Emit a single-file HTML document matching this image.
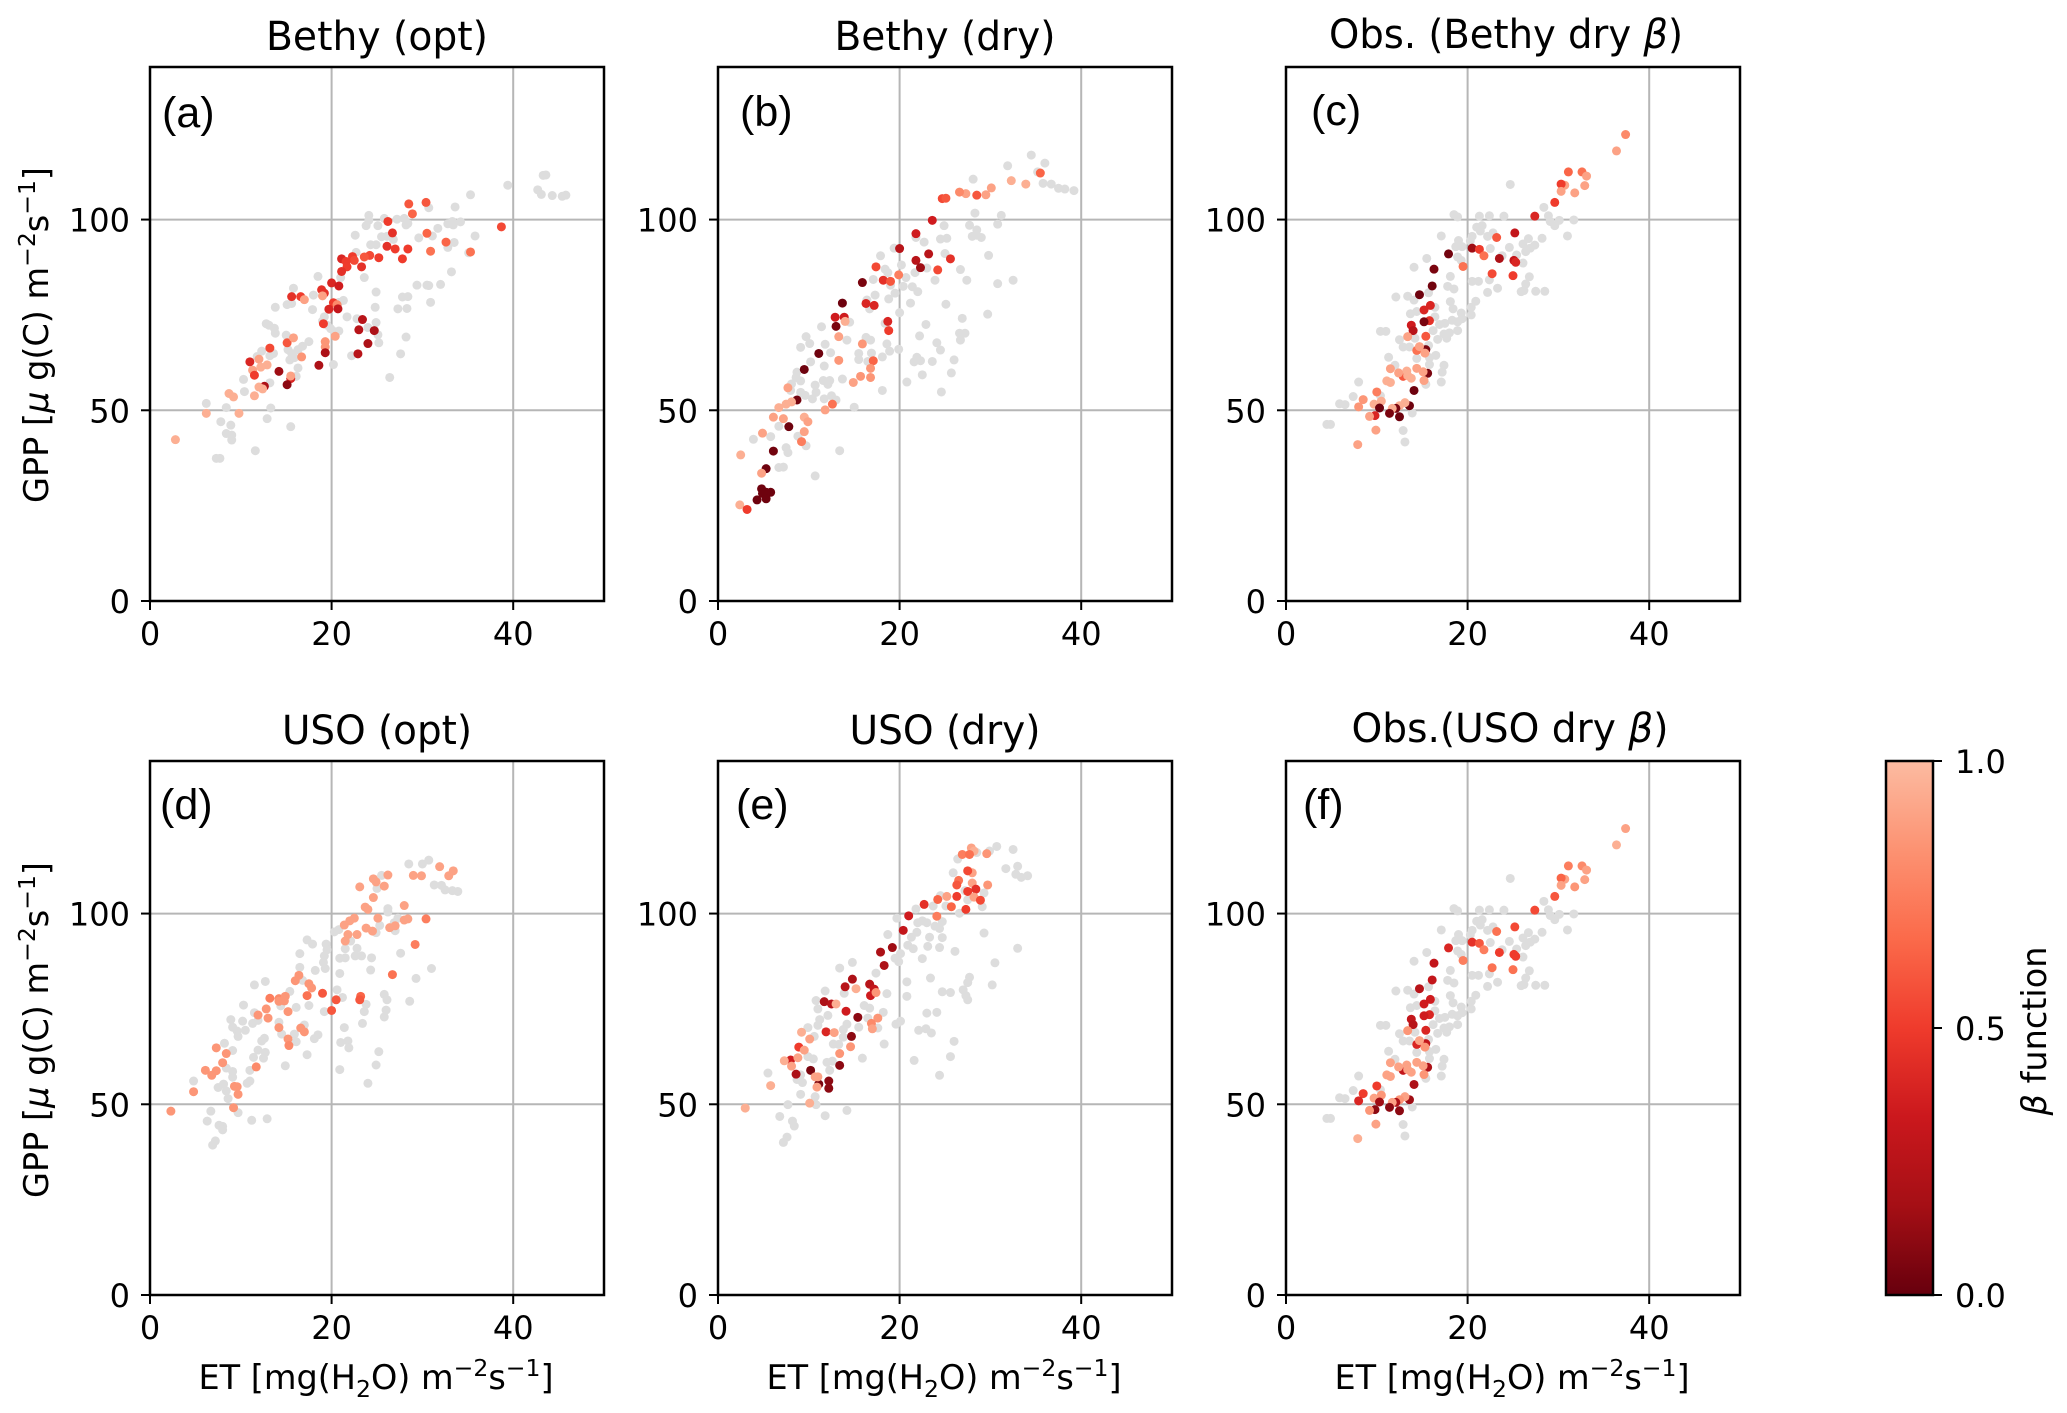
<!DOCTYPE html>
<html>
<head>
<meta charset="utf-8">
<title>GPP vs ET scatter panels</title>
<style>
html,body{margin:0;padding:0;background:#fff;}
svg{display:block;}
text{font-family:"DejaVu Sans",sans-serif;fill:#000;}
.title{font-size:40px;text-anchor:middle;}
.axlab{font-size:33.5px;text-anchor:middle;}
.tick{font-size:32px;}
.plabel{font-family:"Liberation Sans",sans-serif;font-size:43px;}
</style>
</head>
<body>
<svg id="fig" xmlns="http://www.w3.org/2000/svg" width="2067" height="1413" viewBox="0 0 2067 1413">
<defs>
<linearGradient id="cbGrad" x1="0" y1="1" x2="0" y2="0"></linearGradient>
</defs>
<rect width="2067" height="1413" fill="#fff"/>
<g id="panels"></g>

<text class="title" x="377" y="50" textLength="222" lengthAdjust="spacingAndGlyphs">Bethy (opt)</text>
<text class="title" x="945" y="50" textLength="221" lengthAdjust="spacingAndGlyphs">Bethy (dry)</text>
<text class="title" x="1506" y="48" textLength="354" lengthAdjust="spacingAndGlyphs">Obs. (Bethy dry <tspan font-style="italic">β</tspan>)</text>
<text class="title" x="377" y="744" textLength="190" lengthAdjust="spacingAndGlyphs">USO (opt)</text>
<text class="title" x="945" y="744" textLength="191" lengthAdjust="spacingAndGlyphs">USO (dry)</text>
<text class="title" x="1510" y="742" textLength="317" lengthAdjust="spacingAndGlyphs">Obs.(USO dry <tspan font-style="italic">β</tspan>)</text>

<text class="plabel" x="162" y="127">(a)</text>
<text class="plabel" x="740" y="126">(b)</text>
<text class="plabel" x="1311" y="125">(c)</text>
<text class="plabel" x="160" y="819">(d)</text>
<text class="plabel" x="736" y="819">(e)</text>
<text class="plabel" x="1303" y="819">(f)</text>

<text class="axlab" transform="translate(48,335) rotate(-90)" x="0" y="0">GPP [<tspan font-style="italic">μ</tspan> g(C) m<tspan dy="-13" font-size="23.5">−2</tspan><tspan dy="13">s</tspan><tspan dy="-13" font-size="23.5">−1</tspan><tspan dy="13">]</tspan></text>
<text class="axlab" transform="translate(48,1030) rotate(-90)" x="0" y="0">GPP [<tspan font-style="italic">μ</tspan> g(C) m<tspan dy="-13" font-size="23.5">−2</tspan><tspan dy="13">s</tspan><tspan dy="-13" font-size="23.5">−1</tspan><tspan dy="13">]</tspan></text>

<text class="axlab" x="376" y="1389">ET [mg(H<tspan dy="8" font-size="23.5">2</tspan><tspan dy="-8">O) m</tspan><tspan dy="-13" font-size="23.5">−2</tspan><tspan dy="13">s</tspan><tspan dy="-13" font-size="23.5">−1</tspan><tspan dy="13">]</tspan></text>
<text class="axlab" x="944" y="1389">ET [mg(H<tspan dy="8" font-size="23.5">2</tspan><tspan dy="-8">O) m</tspan><tspan dy="-13" font-size="23.5">−2</tspan><tspan dy="13">s</tspan><tspan dy="-13" font-size="23.5">−1</tspan><tspan dy="13">]</tspan></text>
<text class="axlab" x="1512" y="1389">ET [mg(H<tspan dy="8" font-size="23.5">2</tspan><tspan dy="-8">O) m</tspan><tspan dy="-13" font-size="23.5">−2</tspan><tspan dy="13">s</tspan><tspan dy="-13" font-size="23.5">−1</tspan><tspan dy="13">]</tspan></text>

<g id="colorbar"></g>
<text class="axlab" transform="translate(2046,1031) rotate(-90)" x="0" y="0"><tspan font-style="italic">β</tspan> function</text>
</svg>

<script>
// ---- chart values: [ET, GPP] and [ET, GPP, beta] ----
const xTickValues = [0, 20, 40];
const yTickValues = [0, 50, 100];
const cbTickValues = [0, 0.5, 1];
const cbTickLabels = ["0.0", "0.5", "1.0"];
const xLimit = [0, 50];
const yLimit = [0, 140];
const cmapStops = ["#67000d", "#a50f15", "#cb181d", "#ef3b2c", "#fb6a4a", "#fc9272", "#fcbba1"];

const aGray = [[43.6,111.7],[43.3,111.6],[39.4,109],[42.7,107.8],[43.1,106.6],[44.3,106.3],[45.4,106.1],[45.8,106.4],[35.3,106.5],[33.6,103.3],[30.7,103.1],[24.1,101.1],[23.8,98.4],[24.1,99.8],[25.1,98.4],[25.8,100.3],[27.2,100.1],[28,100.3],[28.2,98.6],[28.4,99],[31.7,97.7],[32.8,98.9],[33.3,99.5],[33.4,98.6],[34.2,99.4],[35.8,95.7],[33.5,94],[32.8,92.7],[31.1,95.7],[29.6,95.2],[22.6,95.9],[24.3,93.4],[24.9,93.4],[25.5,95.5],[26.1,95.6],[26.8,94.8],[22.7,91.4],[35.1,91.3],[33.2,86.3],[32,83],[30.5,82.8],[30.7,82.7],[29.4,82.8],[18.5,85.1],[23.6,84.8],[21,84.8],[15.8,82],[24.9,81],[27.8,79.7],[28.4,79.8],[18,80.2],[21.3,78.8],[20.8,78.3],[30.9,78.3],[27.3,76.6],[28.3,76.7],[24.8,77],[17.9,76.4],[13.8,77],[15.1,77.7],[15.6,78],[19.2,74.5],[19,73.4],[19.5,72.3],[21.7,74.5],[22.8,74],[24.9,73],[12.8,72.7],[13.1,72.3],[13.7,71.5],[13.8,70.2],[15,69.7],[19.9,71.4],[20.4,70.6],[20.8,70.8],[24,71.7],[25.1,69.8],[28.2,69.2],[25.2,67.7],[17.5,68],[16.8,66.8],[16.3,65.9],[15.2,65.9],[15.6,64.9],[13.2,64.3],[12.3,65.5],[13.6,64.9],[15.4,63.2],[15.9,63.8],[11.8,64.1],[22.2,64.3],[27.6,64.8],[20.2,62],[16.3,61.1],[26.4,58.6],[16.1,58.9],[10.3,58.1],[13.2,57.2],[10.4,54.9],[6.2,51.8],[13.3,50.6],[8.4,50.7],[12.9,47.8],[7.8,47],[8.9,46.1],[15.5,45.7],[8.4,43.9],[9,43.5],[9,42.2],[11.6,39.4],[7.3,37.4],[7.7,37.4]];
const aColored = [[30.4,104.5,.6],[28.5,104.1,.6],[28.9,101.5,.65],[26.2,99.5,.5],[38.7,98.1,.55],[26.7,96.5,.45],[30.5,96.4,.65],[32.6,94.1,.65],[26.1,93,.45],[27,92.3,.5],[28.4,92.3,.5],[30.9,91.7,.7],[35.3,91.5,.7],[27.8,89.7,.5],[25.2,90,.5],[24.2,90.6,.55],[23.6,90.2,.6],[22.3,90.3,.5],[22.5,89.3,.55],[21.1,89.7,.4],[21.6,89,.5],[21.7,87.6,.5],[23.3,87.6,.45],[21.1,86.4,.45],[20,83.4,.4],[20.8,82.6,.35],[18.9,81.6,.45],[19.2,80.7,.45],[15.6,79.8,.45],[16.6,79.8,.5],[17,79,.9],[19,80,.9],[20.2,78.2,.5],[20.6,77.7,.8],[19.7,76.5,.4],[20.7,76.6,.3],[19.1,72.7,.5],[23.4,73.8,.25],[23,71.1,.25],[24.7,70.9,.2],[24,67.5,.2],[22.9,64.8,.25],[20.4,69.4,.9],[19.3,68,.85],[19.3,66.6,.85],[19.3,65.1,.2],[18.6,61.8,.2],[13.2,66.3,.55],[15.1,67.7,.6],[15.8,69,.9],[16.7,64,.85],[11,62.7,.4],[12,63.4,.9],[12.9,61.9,.95],[12.2,61.3,.95],[11.3,60.5,.9],[11.5,59.2,.5],[14.2,60.2,.15],[15.5,58.3,.4],[15.5,59,.9],[15.1,56.7,.1],[12.6,56.3,.2],[12,56.1,.95],[12.4,55.6,.95],[8.7,54.4,.95],[9.2,53.5,.95],[11.5,53.8,.95],[6.2,49.2,.95],[9.8,49.2,.95],[2.8,42.3,.95]];

const bGray = [[34.5,116.9],[36,114.8],[31.9,114.1],[35.2,112.5],[35.8,109.5],[36.7,109.3],[37.5,108.2],[38.2,108],[39.2,107.6],[28.1,110.6],[28.3,101.7],[31.2,101.1],[30.8,98.8],[24.9,98.4],[27.7,98.5],[28.5,97.3],[28,95.6],[28.5,95.9],[29,95.3],[24.5,94.9],[25.2,95.1],[22.7,94.1],[21.8,95.3],[19.4,92.5],[17.9,90.5],[25,91.1],[29.8,90.6],[20.2,88.1],[23,87.3],[26.7,86.9],[18.4,87],[18.7,86.1],[21.7,86.1],[17.1,84.3],[20.7,84.8],[23.9,84.1],[27.4,84.1],[32.5,84.1],[30.8,83.2],[19,82.8],[20.4,82.5],[21.4,82.4],[22,81.1],[19.5,80.7],[17.3,80.2],[18.8,79.2],[16.4,78.9],[21.2,78.1],[25.1,77.8],[16.7,76.6],[20,75.6],[29.7,75.2],[26.9,74.1],[14.5,73.1],[11.4,71.9],[18.4,72.8],[22.9,72.5],[9.7,69.3],[22.2,69.5],[26.6,70.2],[27.2,70.2],[26.7,68.4],[14.2,68.4],[16.3,69.1],[16.8,68.4],[24.1,67.7],[10.1,67.5],[11.8,67.3],[9.1,66.5],[18.6,67.4],[24.5,65.8],[12.4,65.1],[15.5,64.9],[16.9,65],[18.9,65.5],[19.9,66],[18.1,64],[15.5,63.3],[26,63.2],[23.6,62.8],[21.9,63.9],[21.6,62.7],[22.3,63],[10.2,62.7],[11.7,61.6],[16.5,62.8],[8.7,60],[22.5,59.3],[25.7,59.8],[8.1,56.9],[9.1,57.7],[8.6,58.6],[11.6,57.8],[12.3,57.8],[13.7,58.2],[10.7,56.6],[12.1,56.8],[20.8,57.4],[18.1,55.2],[24.6,54.8],[8,55.2],[9.1,54.7],[9.6,53.9],[10.4,53],[10.8,54.7],[11.7,53],[12.5,53.8],[13,52.7],[15,50.8],[6.7,45.8],[5.8,43.1],[3.9,42.4],[8.8,43.2],[9.7,40.7],[7.5,40.2],[7.7,38.9],[13.4,39.4],[6.7,35],[7.2,35.1],[10.7,32.8]];
const bColored = [[35.5,112.2,.65],[32.3,110.2,.95],[33.9,109.3,.95],[30.1,108.3,.9],[29.5,106.5,.9],[27.3,106.8,.9],[28.5,106.4,.6],[26.6,107.2,.8],[24.7,105.5,.55],[25.1,105.6,.6],[23.6,99.8,.35],[21.8,96.3,.35],[20,92.4,.25],[23.2,91,.25],[21.8,89.3,.25],[22.3,87.4,.15],[25.6,89.7,.45],[24.2,86.8,.55],[17.4,87.6,.55],[19.9,85.5,.75],[18.2,84.1,.45],[19,83.8,.6],[15.9,83.5,.05],[13.7,78.1,.02],[16.3,78,.4],[17.2,77.5,.4],[13.9,74.4,.35],[12.9,74.4,.35],[14,73.3,.95],[13,72,.05],[18.7,73.3,.4],[18.8,70.9,.5],[13.3,69.3,.9],[15.9,67.4,.85],[11.1,64.9,.02],[13.3,63.1,.85],[17.1,63,.65],[9.5,60.7,.02],[16.8,61,.85],[16.8,58.6,.85],[15.7,58.9,.85],[14.9,57.3,.9],[7.7,55.9,.9],[8.7,52.7,.03],[8.1,52.2,.95],[7.5,51.6,.95],[6.7,50.7,.95],[12.6,51.6,.7],[11.8,50.1,.9],[6.1,48.2,.9],[7.2,47.8,.9],[9.5,48.2,.95],[9.9,47,.9],[7.8,45.7,.02],[9.5,44.4,.9],[4.9,44,.9],[9.2,41.8,.75],[6.1,39.3,.03],[2.5,38.3,.95],[5.3,34.7,.02],[4.8,33.5,.9],[4.8,29.4,.02],[5.8,28.5,.02],[5.3,28.5,.02],[4.9,28.2,.02],[5.3,26.8,.02],[4.3,26.5,.02],[2.4,25.2,.95],[3.2,24,.5]];

const obsGray = [[24.7,109.2],[28.4,103.2],[18.5,101.3],[18.9,100.7],[21.3,100.9],[22.4,101],[24,100.9],[28.9,101],[29.1,99.5],[30.1,99.8],[29.6,98.4],[31.7,99.9],[21.6,98.4],[21,98],[21.4,97],[22.8,96.5],[22.2,95.6],[17.1,95.7],[31,95.7],[20.5,95.6],[19,94.5],[20.3,94.4],[26.7,95],[28.2,95.1],[26.1,93.6],[27.4,93.3],[26.9,92.5],[24.6,92.7],[18.7,92.9],[19.4,92.9],[22.5,92.4],[23.8,90.5],[26.4,91.6],[25.4,90.7],[18.9,90.2],[19.3,89.3],[15.5,89.8],[26.1,88.6],[14.1,87.5],[18.1,85.1],[26.8,85],[17.8,82.5],[18.5,81.8],[20.5,83.8],[21.2,83.8],[22.4,84.2],[23.3,82],[22.2,80.9],[26.4,83.1],[26.2,81.4],[25.9,81.1],[27.5,81.2],[28.5,81.2],[12.1,79.7],[13.4,79.9],[15.7,80.8],[18.1,78.5],[20.9,78.6],[18.4,76.6],[14.1,78.9],[20.4,77],[13.7,75.3],[14.4,75.9],[16.4,77],[19.3,75.5],[20.4,75],[16.4,74.5],[18.9,73.2],[18.3,73.6],[19.4,74],[16.9,72.5],[17.5,72.8],[10.4,70.7],[11,70.7],[16.2,70.9],[18.9,70.9],[18,70.3],[17.4,70],[16.7,68.6],[17.7,68.9],[12.5,68.5],[14.2,68.9],[12.9,66.6],[13.6,66.6],[15.7,67],[11.3,63.9],[14.4,63.6],[16.5,64.4],[15.8,63.8],[12,61.8],[17.4,61.8],[15.8,62],[17.2,60],[8,57.4],[17.1,57.4],[15.4,56.8],[7.4,53.6],[10.4,53.8],[5.9,51.7],[6.5,51.5],[13.9,49.3],[4.5,46.3],[4.9,46.3],[12.9,44.7],[13.1,41.7]];
const cColored = [[37.4,122.3,.8],[36.4,118,.9],[31.1,112.5,.65],[32.6,112.5,.7],[33.1,111.4,.9],[30.7,109,.9],[30.3,109.3,.5],[32.9,108.9,.9],[30.3,107.4,.9],[31.8,107,.9],[29.6,104.5,.5],[27.4,100.9,.4],[25.2,96.5,.3],[23.2,95.3,.6],[20.5,92.5,.15],[21.3,92.2,.5],[21.8,90.5,.7],[17.9,91,.03],[23.5,89.8,.2],[25.1,89.3,.3],[25.3,88.8,.4],[19.5,87.7,.7],[16.3,87,.05],[22.7,85.8,.55],[25,85.3,.5],[16.1,82.6,.03],[14.7,80.3,.02],[15.9,77.5,.4],[15.2,76.3,.4],[15.8,73.5,.45],[15.2,73.2,.05],[13.8,72.3,.35],[14,70.9,.25],[13.4,69.3,.9],[15.4,69.4,.6],[15.4,65.9,.05],[14.4,65.7,.7],[14.7,66.7,.9],[15.3,65,.9],[11.5,60.9,.9],[14.4,61,.9],[12.9,58.9,.6],[13.3,60.3,.95],[12.4,59.8,.9],[13.4,59.1,.95],[13.8,58.4,.95],[15.6,59.7,.05],[15.1,60.1,.9],[15.2,57.8,.9],[11.1,57.7,.95],[11.5,57.3,.95],[14.1,55.2,.02],[10,54.8,.75],[8.5,52.8,.85],[10.5,52.4,.95],[13.6,51.2,.02],[9.7,51.6,.95],[13.1,52,.95],[10.3,50.6,.02],[12.5,51.2,.95],[8,50.9,.85],[12.1,50.5,.05],[11.7,50.5,.95],[11.4,49.2,.05],[12.5,48.3,.02],[9.8,48.6,.4],[9.2,48.4,.9],[9.9,44.8,.9],[7.9,41,.9]];
const fColored = [[37.4,122.3,.9],[36.4,118,.95],[31.1,112.5,.75],[32.6,112.5,.8],[33.1,111.4,.9],[30.7,109,.9],[30.3,109.3,.65],[32.9,108.9,.9],[30.3,107.4,.9],[31.8,107,.85],[29.6,104.5,.6],[27.4,100.9,.55],[25.2,96.5,.55],[23.2,95.3,.7],[20.5,92.5,.45],[21.3,92.2,.6],[21.8,90.5,.75],[17.9,91,.4],[23.5,89.8,.5],[25.1,89.3,.5],[25.3,88.8,.5],[19.5,87.7,.75],[16.3,87,.3],[22.7,85.8,.7],[25,85.3,.7],[16.1,82.6,.3],[14.7,80.3,.25],[15.9,77.5,.35],[15.2,76.3,.35],[15.8,73.5,.4],[15.2,73.2,.35],[13.8,72.3,.3],[14,70.9,.25],[13.4,69.3,.85],[15.4,69.4,.4],[15.4,65.9,.3],[14.4,65.7,.4],[14.7,66.7,.9],[15.3,65,.85],[11.5,60.9,.9],[14.4,61,.9],[12.9,58.9,.3],[13.3,60.3,.9],[12.4,59.8,.9],[13.4,59.1,.9],[13.8,58.4,.9],[15.6,59.7,.2],[15.1,60.1,.9],[15.2,57.8,.85],[11.1,57.7,.9],[11.5,57.3,.9],[14.1,55.2,.2],[10,54.8,.5],[8.5,52.8,.5],[10.5,52.4,.85],[13.6,51.2,.15],[9.7,51.6,.9],[13.1,52,.9],[10.3,50.6,.15],[12.5,51.2,.85],[8,50.9,.4],[12.1,50.5,.2],[11.7,50.5,.9],[11.4,49.2,.1],[12.5,48.3,.1],[9.8,48.6,.1],[9.2,48.4,.85],[9.9,44.8,.9],[7.9,41,.95]];

const dGray = [[28.5,113],[30,113],[30.7,114],[25.5,110],[25,106.6],[31.3,107.5],[32.1,107.4],[32.5,106.2],[33.3,106],[33.9,105.8],[26.2,101.3],[26.2,100.4],[27.3,98.8],[25.3,96.9],[20.3,95.2],[20.8,95.8],[26.9,97.6],[24.9,95],[27,95.5],[17.3,93.1],[17.9,92],[19.4,92],[22.1,92.8],[21.5,90.8],[22.8,90.9],[27.6,89.6],[16.5,89.5],[19.5,90.5],[19.2,88.9],[19.1,87.2],[20.9,88.3],[21.5,88.4],[22.6,88.9],[23.3,88.9],[24.4,88.4],[16.5,85.9],[18.2,85.1],[19.3,85.6],[24.3,85.2],[31,85.6],[20.9,84.3],[29.3,83],[11.5,81.3],[12.7,82.2],[16.8,82.5],[20.6,80],[15.4,79.6],[25.8,78.8],[26.1,77.4],[28.6,77],[21.2,78],[10.3,76],[17.5,75.9],[16.1,75.4],[14.4,75.8],[23.8,76.2],[26,74.7],[11.5,74],[19.2,74.3],[23.6,74.3],[25.8,72.9],[8.9,72.2],[10.2,71.8],[11.9,72],[11.3,71.2],[14.2,71.5],[23.4,71.2],[17,70.8],[9.1,70.2],[9.6,69.2],[10.5,69.4],[21.4,70.1],[14.5,68.4],[15.9,68.4],[9.7,67.8],[18.5,68.2],[12.6,67.3],[18.1,67.2],[8.2,66],[12.3,66.6],[16.1,66.4],[21.8,66.6],[21,66.2],[21.9,64.8],[9.1,64.1],[25.2,63.8],[12.7,63.6],[11.9,64.2],[11.4,62.3],[12.5,62.1],[17.3,63],[24.9,60.3],[14.9,60.1],[8.4,59.5],[20.9,59.1],[11,58.9],[9.1,58.6],[9.1,57.1],[4.8,56.1],[11,56.1],[10.7,55.5],[24,55.5],[8.1,55.3],[7.5,54.4],[8.4,53.5],[8.6,51.5],[6.7,48.2],[9.7,47.8],[12.9,46.2],[11.2,45.8],[6.3,45.6],[7.6,44.5],[8,44.2],[8,43.3],[7.2,40.4],[6.9,39.3]];
const dColored = [[31.9,112.3,.9],[33.4,111.2,.9],[32.9,109.9,.9],[29,110,.9],[29.9,109.9,.9],[26.2,110.1,.9],[24.6,109.1,.9],[24.9,108.3,.9],[25.8,107.2,.9],[23.1,107,.9],[24.6,104.2,.9],[23.7,101.7,.9],[24,101.1,.9],[28,102.1,.9],[28,98.3,.9],[28.4,98.6,.9],[30.4,98.6,.75],[22.5,98.8,.9],[22,98.1,.9],[21.4,97,.9],[25.1,98.8,.9],[23.8,96.2,.9],[24.5,95.4,.9],[26.4,96.3,.9],[27,96.8,.9],[22.8,94.5,.9],[21.8,94.5,.9],[21.5,92.8,.9],[29.2,91.9,.75],[26.7,84,.7],[16.4,83.8,.85],[16,82.4,.85],[17.5,81.6,.85],[17.8,80.5,.85],[19,79.1,.6],[17.3,78.5,.7],[23.2,78.3,.65],[23.1,77.4,.6],[20.5,77.4,.6],[20,74.6,.6],[13.2,77.8,.75],[14.2,77.7,.8],[14.9,78.3,.85],[14.2,77,.85],[14.8,77.1,.85],[12.8,75,.85],[15.2,74.3,.85],[11.9,73.4,.85],[13,72.6,.85],[14.2,70.1,.85],[16.6,70,.85],[17,69,.85],[15.2,67.1,.85],[15.3,65.4,.8],[7.3,64.8,.85],[8.4,63.3,.85],[8,60.9,.85],[11.7,59.8,.8],[6.1,58.9,.85],[7.3,58.8,.85],[6.8,57.6,.85],[9.3,54.7,.85],[9.6,54.6,.85],[9.7,52.6,.85],[4.8,53.3,.85],[9.2,49.1,.85],[2.3,48.2,.85]];

const eGray = [[30.7,117.6],[32.5,116.8],[29.9,116.4],[28.5,116],[26.4,114.3],[31.7,111.8],[33,112.4],[32.8,110.3],[33.4,109.5],[34.1,109.9],[25.9,110.7],[27.2,106],[29.3,105.4],[27.5,103.6],[24.5,104.7],[25.1,102],[23.7,102],[29.1,101.8],[26.6,100.1],[21.8,101.2],[19.7,98.8],[22.5,98.1],[22,97.6],[23,97.6],[24.7,97.9],[23.9,96.7],[24.4,96.1],[29.3,94.9],[21.9,95.1],[21.3,93.8],[18.7,94.5],[23.3,93.8],[24.7,93.7],[20.9,91.7],[21.5,90.8],[23.1,91.4],[24.4,91.1],[33,90.9],[26.1,90.1],[20.1,89.5],[22.5,88.2],[19.5,88.3],[19.9,87.4],[14.8,87.2],[30.5,87.1],[13.4,85.7],[17.4,84.4],[23.4,83.1],[27.7,83.3],[20.8,82.1],[27.5,81.9],[30.2,81.3],[11.8,79.7],[24.7,79.5],[25.6,79.3],[27,80],[18.6,79],[13.9,79.1],[20.8,78.3],[27.3,78.5],[27.5,77.4],[10.8,77.2],[11,75],[16.1,75.9],[16.7,75.2],[18.2,74.1],[23,73.9],[24.1,74.1],[12.1,73.3],[16.5,72.6],[11.2,72.2],[14.2,71],[20.1,71.8],[19.6,71],[11,70.7],[9.9,70.1],[15.5,70.2],[17.6,70],[13.8,69.6],[22.1,69.4],[22.9,69.8],[23.5,68.7],[10.6,67.8],[13.8,67.6],[26,66.5],[12.7,65.8],[13.3,65.7],[18.3,65.8],[15.9,62.1],[25.6,62.5],[21.6,61.5],[9.9,62.5],[10.5,61.9],[12,61],[12.6,61.3],[12.3,58.9],[5.5,58.2],[24.4,57.6],[9.1,57.7],[8.7,56.5],[9.3,55.7],[9.1,52.6],[10.7,52],[7.7,49.9],[10.8,49.9],[6.8,46.8],[11.8,47],[14.2,48.4],[8.2,45.6],[8.4,44.3],[7.6,41.4],[7.2,40]];
const eColored = [[27.9,117.2,.9],[26.9,115.5,.75],[28.2,116.4,.95],[27.7,115.5,.7],[29.6,115.7,.85],[28,110.7,.9],[27.5,111.2,.55],[26.5,108.7,.7],[26.3,107.5,.6],[28,108,.9],[29.7,107.5,.85],[28.4,106.4,.45],[27.5,105.8,.5],[26.3,104.5,.5],[28.2,104.3,.9],[28.9,103.5,.55],[25.2,104.5,.9],[24.2,103.7,.65],[22.7,102.4,.45],[25.7,101.8,.65],[27.3,101.1,.5],[24.1,99.3,.75],[21,99.4,.35],[20.4,95.6,.3],[19.2,91.1,.15],[17.9,89.9,.2],[18.3,86.4,.2],[14.8,82.8,.2],[14,80.8,.25],[15.2,80.3,.95],[16.7,81.5,.25],[17.2,80.2,.3],[16.8,78.5,.35],[17.4,79.3,.85],[11.7,76.9,.2],[12.5,76.3,.25],[13,76.3,.95],[14.1,74.4,.35],[15.4,72.8,.1],[17.6,72.6,.85],[16.9,71.2,.8],[17,69.8,.9],[11.9,69,.4],[9.2,68.9,.95],[12.8,68.8,.9],[10.1,67.1,.9],[14.7,67.8,.1],[8.9,65,.5],[9.5,64.2,.9],[14.6,65.1,.85],[13.4,63.3,.85],[8,61.6,.35],[7.3,61.4,.95],[8.8,62.2,.9],[8.1,60,.9],[13.4,60.2,.1],[10.2,58.9,.05],[8.6,57.9,.2],[12.2,56.1,.1],[11.1,55.3,.05],[10.7,57.2,.9],[11,57.2,.9],[12.2,54.2,.1],[10.9,54.5,.9],[5.8,54.9,.95],[10.1,50.3,.95],[3,49,.95]];

// ---- layout ----
const panelList = [
  {id:'a', left:150, right:604,  top:67,  bottom:601,  gray:aGray,   colored:aColored},
  {id:'b', left:718, right:1172, top:67,  bottom:601,  gray:bGray,   colored:bColored},
  {id:'c', left:1286,right:1740, top:67,  bottom:601,  gray:obsGray, colored:cColored},
  {id:'d', left:150, right:604,  top:761, bottom:1295, gray:dGray,   colored:dColored},
  {id:'e', left:718, right:1172, top:761, bottom:1295, gray:eGray,   colored:eColored},
  {id:'f', left:1286,right:1740, top:761, bottom:1295, gray:obsGray, colored:fColored}
];
const NS = 'http://www.w3.org/2000/svg';
function mk(tag, attrs, parent){
  const el = document.createElementNS(NS, tag);
  for (const k in attrs) el.setAttribute(k, attrs[k]);
  parent.appendChild(el);
  return el;
}
function hex2rgb(h){ return [1,3,5].map(i => parseInt(h.substr(i,2),16)); }
function betaColor(b){
  const t = Math.max(0, Math.min(1, b)) * (cmapStops.length - 1);
  const i = Math.min(Math.floor(t), cmapStops.length - 2);
  const f = t - i;
  const c0 = hex2rgb(cmapStops[i]), c1 = hex2rgb(cmapStops[i+1]);
  return 'rgb(' + c0.map((v,k) => Math.round(v + (c1[k]-v)*f)).join(',') + ')';
}
function xAxis(p){ return v => p.left + (v - xLimit[0]) / (xLimit[1] - xLimit[0]) * (p.right - p.left); }
function yAxis(p){ return v => p.bottom - (v - yLimit[0]) / (yLimit[1] - yLimit[0]) * (p.bottom - p.top); }

const root = document.getElementById('panels');
panelList.forEach(p => {
  const X = xAxis(p), Y = yAxis(p);
  const g = mk('g', {}, root);
  
  

  xTickValues.forEach(v => {
    const line = mk('line', {x1:X(v), x2:X(v), y1:p.top, y2:p.bottom, stroke:'#b6b6b6', 'stroke-width':2}, g);
    
    
  });
  yTickValues.forEach(v => {
    const line = mk('line', {x1:p.left, x2:p.right, y1:Y(v), y2:Y(v), stroke:'#b6b6b6', 'stroke-width':2}, g);
    
    
  });

  p.gray.forEach(d => {
    const dot = mk('circle', {cx:X(d[0]), cy:Y(d[1]), r:4.5, fill:'#dddddd'}, g);
    
    
  });
  p.colored.forEach(d => {
    const dot = mk('circle', {cx:X(d[0]), cy:Y(d[1]), r:4.5, fill:betaColor(d[2])}, g);
    
    
  });

  const frame = mk('rect', {x:p.left, y:p.top, width:p.right-p.left, height:p.bottom-p.top, fill:'none', stroke:'#000', 'stroke-width':2.5}, g);
  
  

  xTickValues.forEach(v => {
    const t = mk('line', {x1:X(v), x2:X(v), y1:p.bottom, y2:p.bottom+9, stroke:'#000', 'stroke-width':2}, g);
    
    
    const lab = mk('text', {x:X(v), y:p.bottom+44, 'text-anchor':'middle', class:'tick'}, g);
    lab.textContent = String(v);
    
    
  });
  yTickValues.forEach(v => {
    const t = mk('line', {x1:p.left-9, x2:p.left, y1:Y(v), y2:Y(v), stroke:'#000', 'stroke-width':2}, g);
    
    
    const lab = mk('text', {x:p.left-20, y:Y(v)+12, 'text-anchor':'end', class:'tick'}, g);
    lab.textContent = String(v);
    
    
  });
});

// ---- colorbar ----
const grad = document.getElementById('cbGrad');
cmapStops.forEach((c, i) => {
  mk('stop', {offset:(i/(cmapStops.length-1)), 'stop-color':c}, grad);
});
const cb = document.getElementById('colorbar');
const cbBox = {left:1886, right:1933, top:761, bottom:1295};
function cbAxis(v){ return cbBox.bottom - v * (cbBox.bottom - cbBox.top); }
const cbRect = mk('rect', {x:cbBox.left, y:cbBox.top, width:cbBox.right-cbBox.left, height:cbBox.bottom-cbBox.top, fill:'url(#cbGrad)', stroke:'#000', 'stroke-width':2.5}, cb);


cbTickValues.forEach((v, i) => {
  const t = mk('line', {x1:cbBox.right, x2:cbBox.right+9, y1:cbAxis(v), y2:cbAxis(v), stroke:'#000', 'stroke-width':2}, cb);
  
  
  const lab = mk('text', {x:cbBox.right+22, y:cbAxis(v)+12, class:'tick'}, cb);
  lab.textContent = cbTickLabels[i];
  
  
});
</script>
</body>
</html>
